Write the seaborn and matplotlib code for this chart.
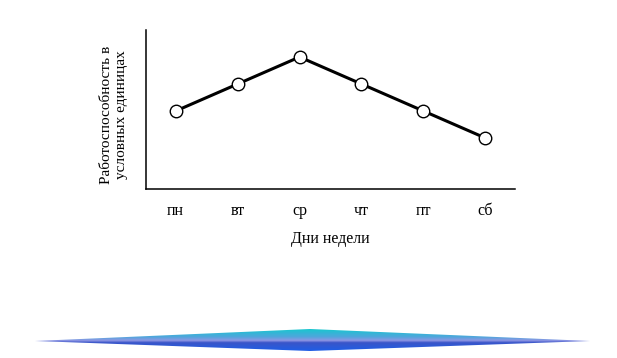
import numpy as np
import pandas as pd
import seaborn as sns
import matplotlib
matplotlib.use("Agg")
import matplotlib.pyplot as plt
from matplotlib.colors import LinearSegmentedColormap
from matplotlib.patches import Polygon

# data
days = ["пн", "вт", "ср", "чт", "пт", "сб"]
performance = [3, 4, 5, 4, 3, 2]
x_label = "Дни недели"
y_label = "Работоспособность в\nусловных единицах"

sns.set_style("white")
plt.rcParams["font.family"] = ["Liberation Serif", "DejaVu Serif"]
plt.rcParams["text.color"] = "black"
plt.rcParams["axes.labelcolor"] = "black"
plt.rcParams["xtick.color"] = "black"
plt.rcParams["ytick.color"] = "black"

W, H = 617, 358
fig = plt.figure(figsize=(W / 100, H / 100), dpi=100)

# decorative gradient diamond at the bottom
bg = fig.add_axes([0, 0, 1, 1], zorder=0)
bg.set_xlim(0, W)
bg.set_ylim(H, 0)
bg.axis("off")
cmap = LinearSegmentedColormap.from_list(
    "dia", [(0.0, "#19c6cf"), (0.35, "#4fa6dc"), (0.52, "#8f96e4"),
            (0.62, "#3a55c8"), (1.0, "#1f5ee6")])
grad = np.linspace(0, 1, 100).reshape(-1, 1)
im = bg.imshow(grad, cmap=cmap, extent=[35, 590, 351, 329], aspect="auto")
poly = Polygon([(35, 341), (310, 329), (590, 341), (310, 351)],
               closed=True, transform=bg.transData, facecolor="none", edgecolor="none")
bg.add_patch(poly)
im.set_clip_path(poly)

# main chart
ax = fig.add_axes([146 / W, 1 - 189 / H, (515 - 146) / W, (189 - 30) / H], zorder=1)
ax.patch.set_alpha(0)
df = pd.DataFrame({"day": days, "value": performance})
sns.lineplot(data=df, x="day", y="value", ax=ax, color="black", linewidth=2.2,
             marker="o", markersize=9, markerfacecolor="white",
             markeredgecolor="black", markeredgewidth=1.0, sort=False)

ax.set_xlim(-0.48, 5.48)
ax.set_ylim(0.11, 6.0)
ax.set_yticks([4])
ax.set_yticklabels([""])
ax.tick_params(axis="y", length=3, color="white", width=1.5, direction="inout")
ax.tick_params(axis="x", length=0, labelsize=11.5, pad=10, labelcolor="black")

sns.despine(ax=ax)
for s in ["left", "bottom"]:
    ax.spines[s].set_color("black")
    ax.spines[s].set_linewidth(1.1)

ax.set_xlabel(x_label, fontsize=11.5, labelpad=9, color="black")
ax.set_ylabel(y_label, fontsize=11, linespacing=1.2, color="black")
ax.yaxis.set_label_coords(-0.05, 0.465)

fig.savefig("out.png", dpi=100)
